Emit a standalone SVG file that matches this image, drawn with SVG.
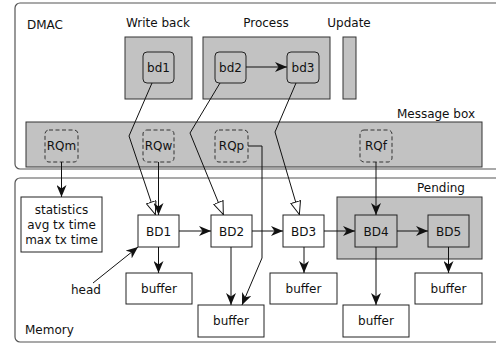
<svg xmlns="http://www.w3.org/2000/svg" width="496" height="347" viewBox="0 0 496 347">
  <style>
    text { font-family: "DejaVu Sans", "Liberation Sans", sans-serif; font-size: 12px; fill: #111; }
    .mid { text-anchor: middle; }
    .end { text-anchor: end; }
    .frame { fill: #fff; stroke: #555; stroke-width: 1.2; }
    .gray { fill: #c2c2c2; stroke: #333; stroke-width: 1; }
    .box { fill: #fff; stroke: #222; stroke-width: 1; }
    .gbox { fill: #c2c2c2; stroke: #222; stroke-width: 1; }
    .dash { fill: none; stroke: #333; stroke-width: 1; stroke-dasharray: 4 2.5; }
    .wire { fill: none; stroke: #111; stroke-width: 1; }
  </style>
  <defs>
    <marker id="fill" viewBox="0 0 12 10" refX="12" refY="5" markerWidth="12" markerHeight="10" markerUnits="userSpaceOnUse" orient="auto">
      <path d="M0,0 L12,5 L0,10 L3.5,5 Z" fill="#111"/>
    </marker>
    <marker id="hollow" viewBox="0 0 14 11" refX="14" refY="5.5" markerWidth="14" markerHeight="11" markerUnits="userSpaceOnUse" orient="auto">
      <path d="M0.5,0.5 L13.5,5.5 L0.5,10.5 Z" fill="#fff" stroke="#111" stroke-width="1"/>
    </marker>
  </defs>

  <!-- containers -->
  <g id="dmac">
    <rect class="frame" x="15" y="3" width="490" height="166" rx="5"/>
    <text x="27" y="29">DMAC</text>
  </g>
  <g id="memory">
    <rect class="frame" x="15" y="178" width="490" height="164" rx="5"/>
    <text x="25" y="334">Memory</text>
  </g>

  <g id="writeback">
    <rect class="gray" x="125" y="37" width="67" height="62"/>
    <text class="mid" x="158" y="27">Write back</text>
  </g>
  <g id="process">
    <rect class="gray" x="203" y="37" width="127" height="62"/>
    <text class="mid" x="266" y="27">Process</text>
  </g>
  <g id="update">
    <rect class="gray" x="343" y="37" width="13" height="62"/>
    <text class="mid" x="349" y="27">Update</text>
  </g>
  <g id="messagebox">
    <rect class="gray" x="26" y="122" width="456" height="45"/>
    <text class="end" x="475" y="118">Message box</text>
  </g>

  <g id="bd1">
    <rect class="gbox" x="143" y="52" width="31" height="31" rx="4"/>
    <text class="mid" x="158.5" y="72">bd1</text>
  </g>
  <g id="bd2">
    <rect class="gbox" x="215" y="52" width="31" height="31" rx="4"/>
    <text class="mid" x="230.5" y="72">bd2</text>
  </g>
  <g id="bd3">
    <rect class="gbox" x="287" y="52" width="32" height="31" rx="4"/>
    <text class="mid" x="303" y="72">bd3</text>
  </g>

  <g id="rqm">
    <rect class="dash" x="45" y="130" width="33" height="32" rx="4"/>
    <text class="mid" x="61.5" y="150">RQm</text>
  </g>
  <g id="rqw">
    <rect class="dash" x="143" y="130" width="31" height="32" rx="4"/>
    <text class="mid" x="158.5" y="150">RQw</text>
  </g>
  <g id="rqp">
    <rect class="dash" x="215" y="130" width="33" height="32" rx="4"/>
    <text class="mid" x="231.5" y="150">RQp</text>
  </g>
  <g id="rqf">
    <rect class="dash" x="360" y="130" width="32" height="32" rx="4"/>
    <text class="mid" x="376" y="150">RQf</text>
  </g>

  <g id="pending">
    <rect class="gray" x="337" y="197" width="145" height="62"/>
    <text class="end" x="465" y="192">Pending</text>
  </g>

  <g id="statistics">
    <rect class="box" x="21" y="197" width="81" height="55"/>
    <text class="mid" x="61.5" y="214">statistics</text>
    <text class="mid" x="61.5" y="229">avg tx time</text>
    <text class="mid" x="61.5" y="244">max tx time</text>
  </g>

  <g id="BD1">
    <rect class="box" x="138" y="215" width="41" height="32"/>
    <text class="mid" x="158.5" y="236">BD1</text>
  </g>
  <g id="BD2">
    <rect class="box" x="211" y="215" width="41" height="32"/>
    <text class="mid" x="231.5" y="236">BD2</text>
  </g>
  <g id="BD3">
    <rect class="box" x="283" y="215" width="41" height="32"/>
    <text class="mid" x="303.5" y="236">BD3</text>
  </g>
  <g id="BD4">
    <rect class="gbox" x="355" y="215" width="42" height="32"/>
    <text class="mid" x="376" y="236">BD4</text>
  </g>
  <g id="BD5">
    <rect class="gbox" x="428" y="215" width="41" height="32"/>
    <text class="mid" x="448.5" y="236">BD5</text>
  </g>

  <g id="buffer1">
    <rect class="box" x="126" y="273" width="66" height="31"/>
    <text class="mid" x="159" y="293">buffer</text>
  </g>
  <g id="buffer2">
    <rect class="box" x="198" y="305" width="66" height="32"/>
    <text class="mid" x="231" y="325">buffer</text>
  </g>
  <g id="buffer3">
    <rect class="box" x="270" y="273" width="67" height="31"/>
    <text class="mid" x="303.5" y="293">buffer</text>
  </g>
  <g id="buffer4">
    <rect class="box" x="343" y="305" width="66" height="32"/>
    <text class="mid" x="376" y="325">buffer</text>
  </g>
  <g id="buffer5">
    <rect class="box" x="415" y="273" width="67" height="31"/>
    <text class="mid" x="448.5" y="293">buffer</text>
  </g>

  <g id="head">
    <text x="71" y="294">head</text>
  </g>

  <g id="connectors">
    <path class="wire" d="M246,67 H287" marker-end="url(#fill)"/>
    <path class="wire" d="M152,83 L129,136 L155.5,215" marker-end="url(#hollow)"/>
    <path class="wire" d="M220,83 L190,133 L223.5,215" marker-end="url(#hollow)"/>
    <path class="wire" d="M296,83 L275,132 L299.5,215" marker-end="url(#hollow)"/>
    <path class="wire" d="M61.5,162 V197" marker-end="url(#fill)"/>
    <path class="wire" d="M158.5,162 V215" marker-end="url(#fill)"/>
    <path class="wire" d="M248,146 H262 V258 L242,305" marker-end="url(#fill)"/>
    <path class="wire" d="M376,162 V215" marker-end="url(#fill)"/>
    <path class="wire" d="M179,231 H211" marker-end="url(#fill)"/>
    <path class="wire" d="M252,231 H283" marker-end="url(#fill)"/>
    <path class="wire" d="M324,231 H355" marker-end="url(#fill)"/>
    <path class="wire" d="M397,231 H428" marker-end="url(#fill)"/>
    <path class="wire" d="M158.5,247 V273" marker-end="url(#fill)"/>
    <path class="wire" d="M231,247 V305" marker-end="url(#fill)"/>
    <path class="wire" d="M304,247 V273" marker-end="url(#fill)"/>
    <path class="wire" d="M376,247 V305" marker-end="url(#fill)"/>
    <path class="wire" d="M448.5,247 V273" marker-end="url(#fill)"/>
    <path class="wire" d="M93,283 L138,247" marker-end="url(#fill)"/>
  </g>
</svg>
